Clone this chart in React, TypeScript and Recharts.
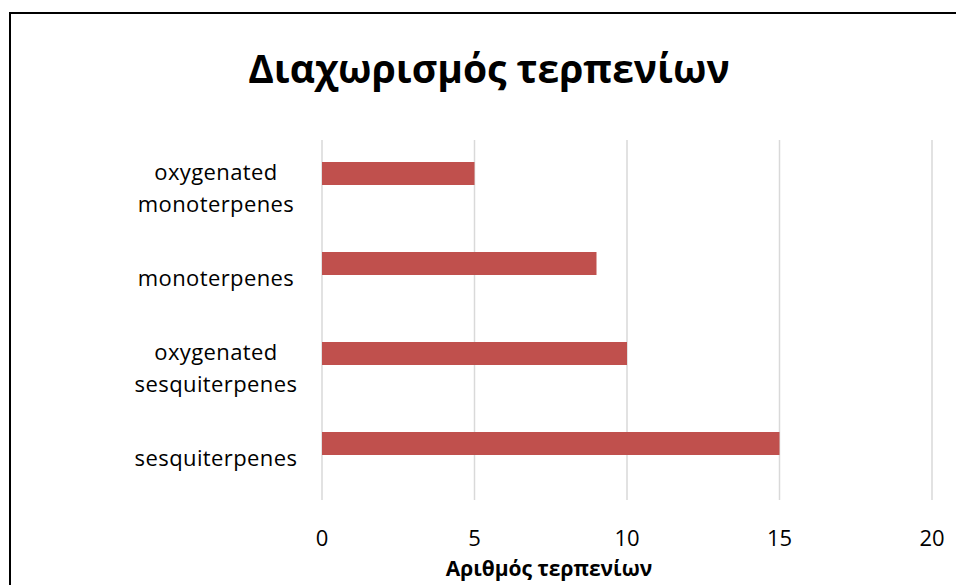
import React from "react";
import { BarChart, Bar, XAxis, YAxis, CartesianGrid } from "recharts";

// terpene classes, listed top to bottom
const categories = [
  "oxygenated\nmonoterpenes",
  "monoterpenes",
  "oxygenated\nsesquiterpenes",
  "sesquiterpenes",
];
const counts = [5, 9, 10, 15];
// second (empty) series of the original workbook, keeps the bars off-centre
const placeholder = [null, null, null, null];
const xTicks = [0, 5, 10, 15, 20];

const data = categories.map((name, i) => ({ name, count: counts[i], other: placeholder[i] }));

const FONT = "'Open Sans', 'Noto Sans', sans-serif";

const CategoryTick = (props: any) => {
  const { y, payload } = props;
  const lines = String(payload.value).split("\n");
  const lineH = 32;
  const start = y + 2 - ((lines.length - 1) * lineH) / 2;
  return (
    <text textAnchor="middle" fontFamily={FONT} fontSize={22} letterSpacing={0.4} fill="#000">
      {lines.map((l, i) => (
        <tspan key={i} x={208} y={start + i * lineH} dominantBaseline="central">
          {l}
        </tspan>
      ))}
    </text>
  );
};

const ValueTick = (props: any) => {
  const { x, y, payload } = props;
  return (
    <text x={x} y={y + 37} textAnchor="middle" dominantBaseline="central" fontFamily={FONT} fontSize={22} fill="#000">
      {payload.value}
    </text>
  );
};

export default function App() {
  return (
    <div style={{ position: "fixed", left: 0, top: 0, width: 956, height: 585, overflow: "hidden", background: "#fff" }}>
      <div style={{ position: "absolute", left: 8, top: 8, width: 948, height: 577 }}>
        {/* chart frame, the right and bottom edges fall outside the view */}
        <div style={{
          position: "absolute",
          left: 1,
          top: 4,
          width: 1000,
          height: 700,
          borderTop: "2px solid #000",
          borderLeft: "2px solid #000",
        }} />
        <div style={{
          position: "absolute",
          left: 0,
          width: 962,
          top: 32,
          textAlign: "center",
          fontFamily: FONT,
          fontWeight: 700,
          fontSize: 39,
          lineHeight: "56px",
          color: "#000",
        }}>Διαχωρισμός τερπενίων</div>
        <BarChart
          width={948}
          height={577}
          data={data}
          layout="vertical"
          margin={{ top: 132, right: 24, left: 0, bottom: 0 }}
          barCategoryGap={22}
          barGap={0}
        >
          <CartesianGrid horizontal={false} stroke="#D9D9D9" strokeWidth={1.5} />
          <XAxis
            type="number"
            domain={[0, 20]}
            ticks={xTicks}
            height={85}
            axisLine={false}
            tickLine={false}
            tickSize={0}
            tickMargin={0}
            tick={<ValueTick />}
            interval={0}
          />
          <YAxis
            type="category"
            dataKey="name"
            width={314}
            axisLine={false}
            tickLine={false}
            tick={<CategoryTick />}
            interval={0}
          />
          <Bar dataKey="count" fill="#C0504D" isAnimationActive={false} />
          <Bar dataKey="other" fill="#4F81BD" isAnimationActive={false} />
        </BarChart>
        <div style={{
          position: "absolute",
          left: 541 - 200,
          width: 400,
          top: 546,
          textAlign: "center",
          fontFamily: FONT,
          fontWeight: 700,
          fontSize: 21,
          lineHeight: "28px",
          color: "#000",
        }}>Αριθμός τερπενίων</div>
      </div>
    </div>
  );
}
